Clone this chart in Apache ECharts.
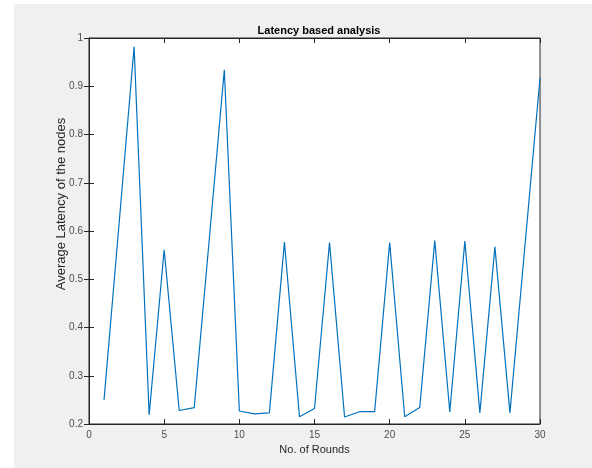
<!DOCTYPE html>
<html>
<head>
<meta charset="utf-8">
<script src="https://cdn.jsdelivr.net/npm/echarts@6/dist/echarts.min.js"></script>
<style>
html,body{margin:0;padding:0;background:#fff;}
#c{width:592px;height:468px;}
</style>
</head>
<body>
<div id="c"></div>
<script>
const rounds = [1,2,3,4,5,6,7,8,9,10,11,12,13,14,15,16,17,18,19,20,21,22,23,24,25,26,27,28,29,30];
const latency = [0.25,0.615,0.982,0.219,0.561,0.228,0.234,0.583,0.934,0.227,0.221,0.223,0.577,0.215,0.232,0.576,0.2145,0.2255,0.2255,0.576,0.215,0.234,0.58,0.225,0.579,0.223,0.567,0.223,0.57,0.917];
const titleText = 'Latency based analysis';
const xName = 'No. of Rounds';
const yName = 'Average Latency of the nodes';

const chart = echarts.init(document.getElementById('c'), null, {renderer:'canvas'});
const axisCol = '#262626';
const labelCol = '#4d4d4d';
const font = 'Helvetica, Arial, "Liberation Sans", sans-serif';
const common = {
  axisLine:{show:true,lineStyle:{color:axisCol,width:1}},
  axisTick:{show:true,inside:true,length:5,lineStyle:{color:axisCol,width:1}},
  splitLine:{show:false}
};
chart.setOption({
  animation:false,
  backgroundColor:'#fff',
  graphic:[
    {type:'rect',shape:{x:14,y:4,width:578,height:464},style:{fill:'#f0f0f0'},z:-10,silent:true},
    {type:'text',x:61,y:204,rotation:Math.PI/2,silent:true,z:10,
      style:{text:yName,align:'center',verticalAlign:'middle',fontSize:13,fill:'#262626',fontFamily:font}}
  ],
  title:{text:titleText,left:314,top:20,textAlign:'center',
    textStyle:{fontSize:11,fontWeight:'bold',color:'#000',fontFamily:font}},
  grid:{left:89,top:38,right:52,bottom:44,show:true,backgroundColor:'#fff',borderColor:axisCol,borderWidth:1},
  xAxis:[
    Object.assign({type:'value',min:0,max:30,interval:5,position:'bottom',
      name:xName,nameLocation:'middle',nameGap:18,
      nameTextStyle:{fontSize:11,color:'#262626',fontFamily:font},
      axisLabel:{fontSize:10,color:labelCol,margin:6,fontFamily:font}},common),
    Object.assign({type:'value',min:0,max:30,interval:5,position:'top',axisLabel:{show:false}},common)
  ],
  yAxis:[
    Object.assign({type:'value',min:0.2,max:1,interval:0.1,position:'left',
      axisLabel:{fontSize:10,color:labelCol,margin:6,fontFamily:font,
        formatter:v=>String(Math.round(v*10)/10)}},common),
    Object.assign({type:'value',min:0.2,max:1,interval:0.1,position:'right',axisLabel:{show:false}},common)
  ],
  series:[{type:'line',data:rounds.map((r,i)=>[r,latency[i]]),
    showSymbol:false,symbol:'none',lineStyle:{color:'#0072BD',width:1.2},xAxisIndex:0,yAxisIndex:0}]
});
</script>
</body>
</html>
